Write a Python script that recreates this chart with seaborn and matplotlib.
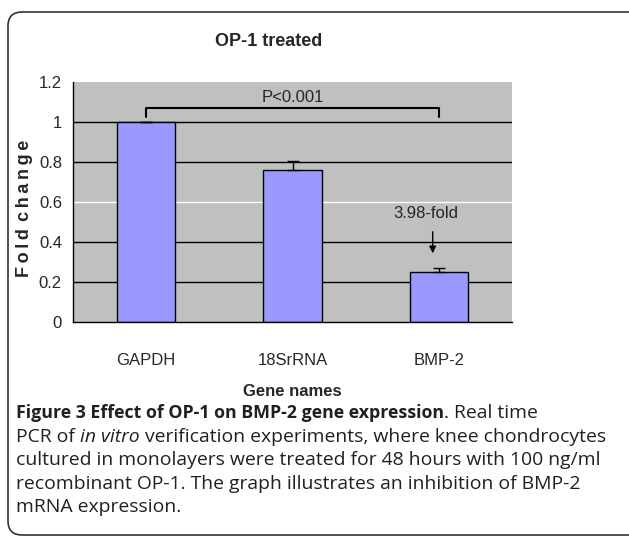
import matplotlib
matplotlib.use("Agg")
import matplotlib.pyplot as plt
import seaborn as sns
import pandas as pd
from matplotlib.patches import FancyBboxPatch

# Data
genes = ["GAPDH", "18SrRNA", "BMP-2"]
fold_change = [1.0, 0.76, 0.25]
fold_err = [0.0, 0.045, 0.02]
y_ticks = [0, 0.2, 0.4, 0.6, 0.8, 1.0, 1.2]
y_tick_labels = ["0", "0.2", "0.4", "0.6", "0.8", "1", "1.2"]

caption_lines = [
    [("Figure 3 Effect of OP-1 on BMP-2 gene expression", "bold", "normal"),
     (". Real time", "normal", "normal")],
    [("PCR of ", "normal", "normal"), ("in vitro", "normal", "italic"),
     (" verification experiments, where knee chondrocytes", "normal", "normal")],
    [("cultured in monolayers were treated for 48 hours with 100 ng/ml", "normal", "normal")],
    [("recombinant OP-1. The graph illustrates an inhibition of BMP-2", "normal", "normal")],
    [("mRNA expression.", "normal", "normal")],
]

sns.set_style("white")
chart_font = ["Liberation Sans Narrow", "Liberation Sans", "DejaVu Sans"]
plt.rcParams["font.family"] = chart_font

df = pd.DataFrame({"gene": genes, "fold": fold_change, "err": fold_err})

fig = plt.figure(figsize=(6.29, 5.38), dpi=100)
ax = fig.add_axes([73 / 629, 1 - 322 / 538, 439 / 629, 240 / 538])
ax.set_facecolor("#C0C0C0")

sns.barplot(data=df, x="gene", y="fold", color="#9999FF", saturation=1,
            edgecolor="black", linewidth=1, width=0.4, errorbar=None, ax=ax)
# upper-only error bars
ax.errorbar(range(len(genes)), df["fold"], yerr=[[0] * len(genes), df["err"]],
            fmt="none", ecolor="black", elinewidth=1, capsize=4.5, capthick=1)

ax.set_xlim(-0.5, len(genes) - 0.5)
ax.set_ylim(0, 1.2)
ax.set_yticks(y_ticks)
ax.set_yticklabels(y_tick_labels, fontsize=12)
ax.set_xticks(range(len(genes)))
ax.set_xticklabels(genes, fontsize=12)
ax.set_xticks([i - 0.5 for i in range(len(genes) + 1)], minor=True)
ax.tick_params(axis="x", which="major", length=0, pad=22)
ax.tick_params(axis="x", which="minor", length=5, width=1, color="black", direction="out")
ax.tick_params(axis="y", length=5, width=1, color="black", direction="out", pad=3)

ax.set_axisbelow(True)
ax.yaxis.grid(True, color="black", linewidth=1)
for val, gl in zip(y_ticks, ax.get_ygridlines()):
    if val == 0.6:
        gl.set_color("white")
    if val in (0, 1.2):
        gl.set_visible(False)

for side in ["top", "right"]:
    ax.spines[side].set_visible(False)
for side in ["left", "bottom"]:
    ax.spines[side].set_color("black")
    ax.spines[side].set_linewidth(1)

ax.set_xlabel("Gene names", fontsize=12, fontweight="bold")
ax.xaxis.set_label_coords(0.499, -0.26)
# letter-spaced y label like the original
ylab = "\u2009\u2009".join("\u2009".join(w) for w in "Fold change".split())
ax.set_ylabel(ylab, fontsize=13, fontweight="bold",
              family=["Liberation Sans", "DejaVu Sans"])
ax.yaxis.set_label_coords(-0.09, 0.475)

# significance bracket and arrow annotation
ax.plot([0, 0, 2, 2], [1.027, 1.07, 1.07, 1.027], color="black", lw=1.5)
ax.text(1, 1.085, "P<0.001", ha="center", va="bottom", fontsize=12)
ax.annotate("", xy=(1.958, 0.33), xytext=(1.958, 0.465),
            arrowprops=dict(arrowstyle="-|>", color="black", lw=1, mutation_scale=10))
ax.text(1.913, 0.545, "3.98-fold", ha="center", va="center", fontsize=12)

fig.text(269 / 629, 1 - 42 / 538, "OP-1 treated", ha="center", va="center",
         fontsize=13, fontweight="bold")

# rounded frame around figure + caption
frame = FancyBboxPatch((0.08, 0.03), 6.5, 5.23, boxstyle="round,pad=0,rounding_size=0.14",
                       transform=fig.dpi_scale_trans, facecolor="none",
                       edgecolor="#333333", linewidth=1.2)
fig.patches.append(frame)

# caption with mixed styles
renderer = fig.canvas.get_renderer()
cap_font = ["Open Sans", "DejaVu Sans"]
line_y = [413, 437, 460, 484, 507]
for runs, yp in zip(caption_lines, line_y):
    x = 16
    for txt, weight, style in runs:
        size = 12.8 if weight == "bold" else 13.95
        t = fig.text(x / 629, 1 - yp / 538, txt, ha="left", va="center", fontsize=size,
                     fontweight=weight, fontstyle=style, family=cap_font, color="#231F20")
        bb = t.get_window_extent(renderer)
        x += bb.width

fig.savefig("out.png", dpi=100)
